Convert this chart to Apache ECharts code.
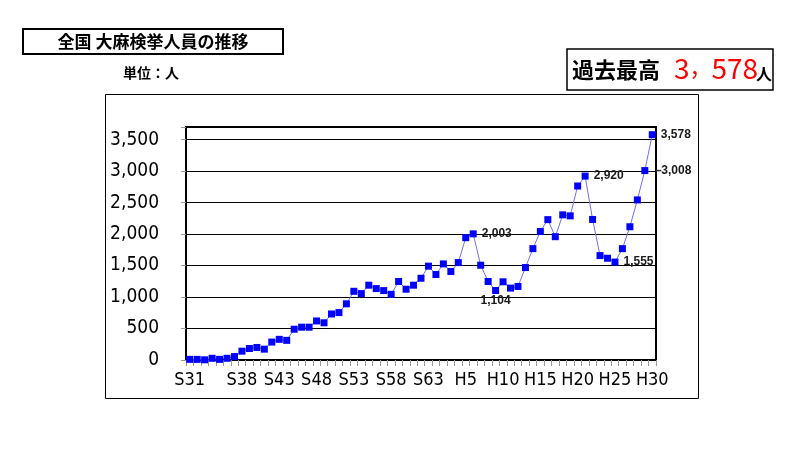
<!DOCTYPE html>
<html><head><meta charset="utf-8">
<script src="https://cdn.jsdelivr.net/npm/echarts@6/dist/echarts.min.js"></script>
<style>html,body{margin:0;padding:0;background:#fff}#c{width:800px;height:450px}</style>
</head><body><div id="c"></div>
<script>
const showaYears = ['S31','S32','S33','S34','S35','S36','S37','S38','S39','S40','S41','S42','S43','S44','S45','S46','S47','S48','S49','S50','S51','S52','S53','S54','S55','S56','S57','S58','S59','S60','S61','S62','S63'];
const heiseiYears = ['H1','H2','H3','H4','H5','H6','H7','H8','H9','H10','H11','H12','H13','H14','H15','H16','H17','H18','H19','H20','H21','H22','H23','H24','H25','H26','H27','H28','H29','H30'];
const categories = showaYears.concat(heiseiYears);
const shownTickLabels = ['S31','S38','S43','S48','S53','S58','S63','H5','H10','H15','H20','H25','H30'];
const arrests = [10,10,3,27,10,27,54,140,183,199,172,285,328,312,489,521,521,620,591,731,753,892,1091,1054,1188,1134,1102,1043,1247,1124,1188,1298,1490,1358,1526,1405,1547,1942,2003,1505,1247,1104,1242,1142,1168,1468,1768,2040,2229,1958,2305,2289,2763,2920,2232,1658,1616,1555,1768,2116,2542,3008,3578];
const labelledRight = ['H6','H21','H25','H30'];
const labelledBottom = ['H9'];
const labelledLeader = ['H29'];
const yTicks = [0,500,1000,1500,2000,2500,3000,3500];

const chart = echarts.init(document.getElementById('c'), null, {renderer:'canvas'});
const narrow = "'Liberation Sans Narrow','Arial Narrow','DejaVu Sans Condensed',sans-serif";
const lblFont = {fontSize:12, fontWeight:'bold', color:'#1a1a1a', fontFamily:"'Liberation Sans',sans-serif"};
const fmtNum = v => v.toLocaleString('en-US');

const seriesData = arrests.map((v,i)=>{
  const c = categories[i];
  if (labelledRight.includes(c)) return {value:v, label:Object.assign({show:true, position:'right', distance:5, formatter:fmtNum(v)}, lblFont)};
  if (labelledBottom.includes(c)) return {value:v, label:Object.assign({show:true, position:'bottom', distance:1, formatter:fmtNum(v)}, lblFont)};
  if (labelledLeader.includes(c)) return {value:v, label:Object.assign({show:true, position:'right', distance:8, formatter:'{ln|}{v|'+fmtNum(v)+'}', rich:{ln:{width:5,height:1.5,backgroundColor:'#333'}, v:Object.assign({}, lblFont)}}, lblFont)};
  return v;
});

chart.setOption({
  animation:false,
  backgroundColor:'#fff',
  grid:{left:186, right:144, top:127, bottom:90, show:true, borderColor:'#000', borderWidth:2, backgroundColor:'transparent'},
  xAxis:{
    type:'category', data:categories, boundaryGap:true,
    axisLine:{show:true, lineStyle:{color:'#000', width:2}},
    axisTick:{show:true, interval:0, length:6, lineStyle:{color:'#999'}},
    axisLabel:{interval:(i,v)=>shownTickLabels.includes(v), margin:11, fontSize:18, color:'#000', fontFamily:narrow, hideOverlap:false},
    splitLine:{show:false}
  },
  yAxis:{
    type:'value', min:0, max:3700, interval:500,
    axisLine:{show:true, lineStyle:{color:'#000', width:2}},
    axisTick:{show:true, length:5, lineStyle:{color:'#999'}},
    axisLabel:{margin:27, fontSize:19, color:'#000', fontFamily:narrow,
      formatter:v=> yTicks.includes(v) ? fmtNum(v) : ''},
    splitLine:{show:true, lineStyle:{color:'#000', width:1}}
  },
  series:[{
    type:'line', data:seriesData, symbol:'rect', symbolSize:7, showSymbol:true, showAllSymbol:true,
    itemStyle:{color:'#0000ff'}, lineStyle:{color:'#7070f0', width:1},
    label:{show:false}, labelLayout:{hideOverlap:false}, z:3
  }],
  graphic:[
    {type:'rect', shape:{x:105.5, y:94.5, width:593, height:304}, style:{fill:'none', stroke:'#000', lineWidth:1}, z:-1},
    {type:'rect', shape:{x:23, y:29, width:260, height:25}, style:{fill:'#fff', stroke:'#000', lineWidth:2}},
    {type:'text', x:153, y:42, style:{text:'全国 大麻検挙人員の推移', fill:'#000', align:'center', verticalAlign:'middle', font:"bold 17px 'Noto Sans CJK JP',sans-serif"}},
    {type:'text', x:151, y:73, style:{text:'単位：人', fill:'#000', align:'center', verticalAlign:'middle', font:"bold 14px 'Noto Sans CJK JP',sans-serif"}},
    {type:'rect', shape:{x:567, y:49, width:206, height:41}, style:{fill:'#fff', stroke:'#000', lineWidth:1.5}},
    {type:'text', x:572, y:70, style:{text:'過去最高', fill:'#000', align:'left', verticalAlign:'middle', font:"bold 22px 'Noto Sans CJK JP',sans-serif"}},
    {type:'text', x:674, y:68, style:{text:'{n|3}{c|，}{n|578}', align:'left', verticalAlign:'middle',
      rich:{n:{fill:'#ff0000', font:"28px 'Noto Sans CJK JP',sans-serif"}, c:{fill:'#ff0000', font:"22px 'Noto Sans CJK JP',sans-serif"}}}},
    {type:'text', x:756, y:74, style:{text:'人', fill:'#000', align:'left', verticalAlign:'middle', font:"bold 16px 'Noto Sans CJK JP',sans-serif"}}
  ]
});
</script></body></html>
